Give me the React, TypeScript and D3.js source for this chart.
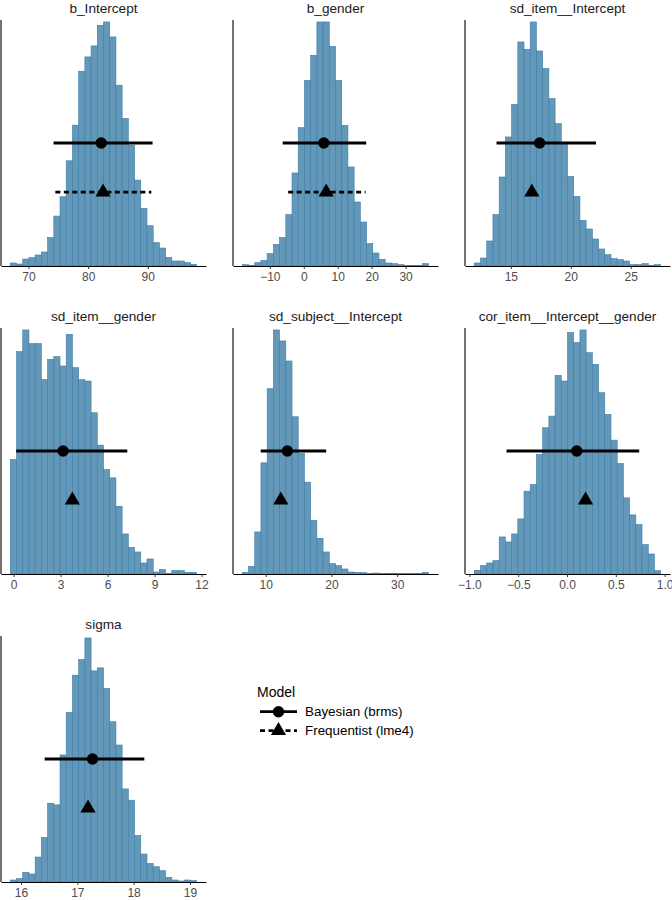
import { useEffect, useRef } from 'react';
import * as d3 from 'd3';

// Posterior draws of each parameter, binned into 30 bars
const PARAMS = [
    'b_Intercept',
    'b_gender',
    'sd_item__Intercept',
    'sd_item__gender',
    'sd_subject__Intercept',
    'cor_item__Intercept__gender',
    'sigma'
];

// left edge of first bin, right edge of last bin
const BIN_LIMITS = [
    [66.95, 98.2],
    [-18.1, 36.8],
    [11.95, 27.5],
    [-0.21, 11.69],
    [6.44, 34.8],
    [-0.95, 0.96],
    [15.81, 19.12]
];

const countsBIntercept = [9, 6, 21, 25, 33, 42, 85, 150, 208, 316, 423, 585, 628, 661, 723, 733, 688, 543, 443, 363, 258, 173, 121, 70, 54, 26, 15, 15, 10, 5];
const countsBGender = [4, 2, 10, 17, 37, 65, 85, 154, 279, 415, 557, 632, 732, 732, 659, 557, 422, 297, 192, 132, 67, 39, 20, 9, 7, 4, 1, 1, 1, 7];
const countsSdItemIntercept = [9, 24, 75, 154, 267, 387, 485, 672, 650, 732, 645, 592, 502, 427, 367, 269, 209, 137, 111, 81, 51, 34, 22, 19, 15, 4, 4, 7, 2, 4];
const countsSdItemGender = [343, 666, 731, 690, 690, 582, 643, 651, 623, 718, 618, 582, 578, 483, 386, 313, 288, 203, 120, 80, 66, 33, 45, 6, 13, 1, 10, 10, 5, 5];
const countsSdSubjectIntercept = [5, 23, 126, 333, 555, 731, 698, 638, 471, 361, 275, 161, 107, 66, 31, 25, 15, 6, 5, 4, 2, 3, 2, 2, 2, 1, 1, 1, 1, 5];
const countsCorItem = [11, 25, 33, 40, 111, 96, 120, 165, 248, 268, 358, 438, 473, 595, 578, 723, 693, 731, 663, 628, 543, 478, 401, 331, 228, 177, 148, 88, 60, 10];
const countsSigma = [6, 10, 29, 24, 75, 134, 237, 232, 382, 510, 622, 669, 734, 635, 644, 582, 482, 412, 280, 246, 140, 84, 56, 46, 34, 14, 6, 3, 6, 4];

const COUNTS = [
    countsBIntercept,
    countsBGender,
    countsSdItemIntercept,
    countsSdItemGender,
    countsSdSubjectIntercept,
    countsCorItem,
    countsSigma
];

const TICKS = [
    [70, 80, 90],
    [-10, 0, 10, 20, 30],
    [15, 20, 25],
    [0, 3, 6, 9, 12],
    [10, 20, 30],
    [-1, -0.5, 0, 0.5, 1],
    [16, 17, 18, 19]
];

// point estimates and intervals
const MODELS = ['Bayesian (brms)', 'Frequentist (lme4)'];
const BAYES_EST = [82.2, 5.9, 17.4, 3.16, 13.3, 0.1, 17.27];
const BAYES_LOW = [74.2, -6.2, 13.8, 0.17, 9.24, -0.62, 16.42];
const BAYES_HIGH = [90.8, 18.4, 22.1, 7.26, 19.2, 0.74, 18.19];
const FREQ_EST = [82.5, 6.6, 16.75, 3.75, 12.3, 0.19, 17.19];
const FREQ_LOW = [74.5, -4.6, null, null, null, null, null];
const FREQ_HIGH = [90.6, 18.2, null, null, null, null, null];

const WIDTH = 672;
const HEIGHT = 900;
const PANEL_W = 205;
const PANEL_H = 246;
const BAR_FILL = '#6398b8';
const BAR_STROKE = '#3b7cab';
const FONT = '"Liberation Sans", Arial, Helvetica, sans-serif';

export default function App() {
    const svgRef = useRef<SVGSVGElement>(null);

    useEffect(() => {
        if (!svgRef.current) return;
        const svg = d3.select(svgRef.current);
        svg.selectAll('*').remove();

        const triangle = d3.symbol(d3.symbolTriangle, 100);

        PARAMS.forEach((name, i) => {
            const col = i % 3;
            const row = Math.floor(i / 3);
            const g = svg.append('g')
                .attr('transform', `translate(${1 + col * 232},${20 + row * 308})`);

            const [lo, hi] = BIN_LIMITS[i];
            const pad = (hi - lo) * 0.05;
            const x = d3.scaleLinear().domain([lo - pad, hi + pad]).range([0, PANEL_W]);
            const counts = COUNTS[i];
            const bw = (hi - lo) / counts.length;
            const yMax = d3.max(counts) * 1.008;
            const y = d3.scaleLinear().domain([0, yMax]).range([PANEL_H, 0]);

            // bars
            g.selectAll('rect.bar')
                .data(counts)
                .join('rect')
                .attr('class', 'bar')
                .attr('x', (d, j) => x(lo + j * bw))
                .attr('width', (d, j) => x(lo + (j + 1) * bw) - x(lo + j * bw))
                .attr('y', d => y(d))
                .attr('height', d => PANEL_H - y(d))
                .attr('fill', BAR_FILL)
                .attr('stroke', BAR_STROKE)
                .attr('stroke-width', 0.6);

            // y axis (line only)
            g.append('line')
                .attr('x1', 0).attr('x2', 0)
                .attr('y1', 0).attr('y2', PANEL_H)
                .attr('stroke', '#000')
                .attr('stroke-width', 1.1);

            // x axis
            const fmt = i === 5 ? d3.format('.1f') : d3.format('d');
            const xAxis = d3.axisBottom(x)
                .tickValues(TICKS[i])
                .tickSize(3)
                .tickSizeOuter(0)
                .tickPadding(3)
                .tickFormat(d => fmt(d).replace('-', '\u2212'));

            const ax = g.append('g')
                .attr('transform', `translate(0,${PANEL_H})`)
                .call(xAxis);
            ax.select('.domain').attr('stroke', '#000').attr('stroke-width', 1.1);
            ax.selectAll('.tick line').attr('stroke', '#333').attr('stroke-width', 1);
            ax.selectAll('.tick text')
                .attr('fill', '#4d4d4d')
                .attr('font-size', '12px')
                .attr('font-family', FONT);

            // panel title
            g.append('text')
                .attr('x', PANEL_W / 2)
                .attr('y', -7)
                .attr('text-anchor', 'middle')
                .attr('fill', '#1a1a1a')
                .attr('font-size', '13.6px')
                .attr('font-family', FONT)
                .text(name);

            // estimates
            const yB = y(yMax * 0.5);
            const yF = y(yMax * 0.3);

            g.append('line')
                .attr('x1', x(BAYES_LOW[i])).attr('x2', x(BAYES_HIGH[i]))
                .attr('y1', yB).attr('y2', yB)
                .attr('stroke', '#000')
                .attr('stroke-width', 2.8);

            if (FREQ_LOW[i] != null) {
                g.append('line')
                    .attr('x1', x(FREQ_LOW[i])).attr('x2', x(FREQ_HIGH[i]))
                    .attr('y1', yF).attr('y2', yF)
                    .attr('stroke', '#000')
                    .attr('stroke-width', 2.8)
                    .attr('stroke-dasharray', '5,3.5');
            }

            g.append('circle')
                .attr('cx', x(BAYES_EST[i]))
                .attr('cy', yB)
                .attr('r', 5.7)
                .attr('fill', '#000');

            g.append('path')
                .attr('d', triangle())
                .attr('transform', `translate(${x(FREQ_EST[i])},${yF})`)
                .attr('fill', '#000');
        });

        // legend
        const legend = svg.append('g').attr('transform', 'translate(257,0)');
        legend.append('text')
            .attr('x', 0)
            .attr('y', 697)
            .attr('font-size', '14px')
            .attr('font-family', FONT)
            .attr('fill', '#000')
            .text('Model');

        MODELS.forEach((m, k) => {
            const ky = 711.7 + k * 19;
            const line = legend.append('line')
                .attr('x1', 3).attr('x2', 40)
                .attr('y1', ky).attr('y2', ky)
                .attr('stroke', '#000')
                .attr('stroke-width', 2.8);
            if (k === 1) line.attr('stroke-dasharray', '5,3.5');

            if (k === 0) {
                legend.append('circle')
                    .attr('cx', 21.5).attr('cy', ky)
                    .attr('r', 5.7)
                    .attr('fill', '#000');
            } else {
                legend.append('path')
                    .attr('d', triangle())
                    .attr('transform', `translate(21.5,${ky})`)
                    .attr('fill', '#000');
            }

            legend.append('text')
                .attr('x', 48)
                .attr('y', ky)
                .attr('dy', '0.35em')
                .attr('font-size', '13.4px')
                .attr('font-family', FONT)
                .attr('fill', '#000')
                .text(m);
        });
    }, []);

    return (
        <svg
            ref={svgRef}
            width={WIDTH}
            height={HEIGHT}
            style={{ position: 'absolute', left: 0, top: 0, background: '#fff', display: 'block' }}
        />
    );
}
